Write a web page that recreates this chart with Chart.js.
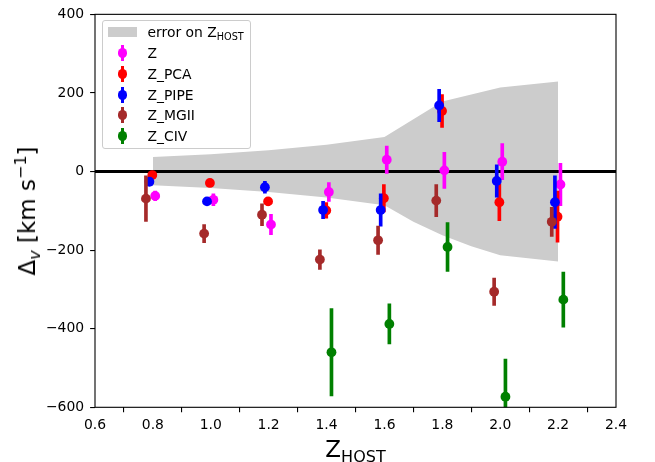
<!DOCTYPE html>
<html><head><meta charset="utf-8">
<script src="https://cdn.jsdelivr.net/npm/chart.js@4/dist/chart.umd.min.js"></script>
<style>
html,body{margin:0;padding:0;background:#fff;}
#wrap{position:relative;width:655px;height:462px;font-family:"DejaVu Sans",sans-serif;color:#000;overflow:hidden;}
canvas{position:absolute;left:0;top:0;}
#legend{position:absolute;left:101.5px;top:20px;width:149.5px;height:129px;box-sizing:border-box;border:1px solid #cccccc;border-radius:3px;background:rgba(255,255,255,0.8);}
.lt{position:absolute;left:45px;font-size:13.9px;line-height:16px;height:16px;white-space:nowrap;}
.lt sub{font-size:9.7px;vertical-align:-3px;line-height:0;}
.patch{position:absolute;left:5.5px;width:29px;height:9.7px;background:#cccccc;}
.ebar{position:absolute;width:3px;height:16px;}
.dot{position:absolute;width:9.8px;height:9.8px;border-radius:50%;}
#xtitle{position:absolute;left:355.5px;top:436px;transform:translateX(-50%);font-size:23px;line-height:26px;white-space:nowrap;}
#xtitle sub{font-size:16px;vertical-align:-5px;line-height:0;}
#ytitle{position:absolute;left:27px;top:211px;transform:translate(-50%,-50%) rotate(-90deg);font-size:23px;line-height:26px;white-space:nowrap;}
#ytitle sub{font-size:16px;vertical-align:-5px;line-height:0;font-style:italic;}
#ytitle sup{font-size:16px;vertical-align:9px;line-height:0;}
</style></head>
<body>
<div id="wrap">
<canvas id="c" width="655" height="462"></canvas>
<div id="legend"></div>
<div id="xtitle">Z<sub>HOST</sub></div>
<div id="ytitle">Δ<sub>v</sub> [km s<sup>−1</sup>]</div>
</div>
<script>
// ---- axis ranges and ticks ----
const xMin = 0.6, xMax = 2.4, yMin = -600, yMax = 400;
const xTicks = [0.6, 0.8, 1.0, 1.2, 1.4, 1.6, 1.8, 2.0, 2.2, 2.4];
const yTicks = [-600, -400, -200, 0, 200, 400];

// ---- series ----
const seriesNames = ['Z', 'Z_PCA', 'Z_PIPE', 'Z_MGII', 'Z_CIV'];
const seriesColors = ['#ff00ff', '#ff0000', '#0000ff', '#a52a2a', '#008000'];

const zX   = [0.808, 1.009, 1.208, 1.408, 1.608, 1.807, 2.007, 2.208];
const zY   = [-62, -72, -135, -52, 30, 3, 25, -33];
const zErr = [12, 15, 26, 24, 35, 46, 46, 54];

const pcaX   = [0.798, 0.997, 1.198, 1.399, 1.598, 1.799, 1.997, 2.198];
const pcaY   = [-9, -29, -76, -99, -68, 154, -78, -115];
const pcaErr = [5, 5, 10, 20, 35, 42, 47, 65];

const pipeX   = [0.788, 0.987, 1.187, 1.388, 1.587, 1.789, 1.988, 2.189];
const pipeY   = [-26, -76, -40, -98, -98, 168, -24, -78];
const pipeErr = [6, 6, 15, 22, 41, 41, 41, 67];

const mgX   = [0.776, 0.977, 1.177, 1.377, 1.578, 1.779, 1.979, 2.178];
const mgY   = [-69, -158, -110, -224, -175, -74, -306, -128];
const mgErr = [58, 23, 28, 25, 36, 41, 35, 37];

const civX   = [1.417, 1.617, 1.818, 2.018, 2.218];
const civY   = [-460, -388, -192, -573, -326];
const civErr = [111, 51, 62, 96, 70];

// ---- error band on Z_HOST ----
const bandLabel = 'error on Z_HOST';
const bandX     = [0.8, 1.0, 1.2, 1.4, 1.6, 1.7, 1.8, 1.9, 2.0, 2.2];
const bandUpper = [37, 44, 54, 68, 88, 133, 178, 196, 214, 229];
const bandLower = [-35, -42, -52, -66, -86, -128, -162, -190, -213, -229];

const seriesX = [zX, pcaX, pipeX, mgX, civX];
const seriesY = [zY, pcaY, pipeY, mgY, civY];
const seriesE = [zErr, pcaErr, pipeErr, mgErr, civErr];

const datasets = [];
datasets.push({
  type: 'line', label: bandLabel,
  data: bandX.map((x, i) => ({x: x, y: bandUpper[i]})),
  borderWidth: 0, borderColor: 'rgba(0,0,0,0)', pointRadius: 0,
  backgroundColor: '#cccccc', fill: '+1', tension: 0, order: 100
});
datasets.push({
  type: 'line', label: bandLabel + ' lower',
  data: bandX.map((x, i) => ({x: x, y: bandLower[i]})),
  borderWidth: 0, borderColor: 'rgba(0,0,0,0)', pointRadius: 0,
  backgroundColor: '#cccccc', fill: false, tension: 0, order: 101
});
datasets.push({
  type: 'line', label: 'zero',
  data: [{x: xMin, y: 0}, {x: xMax, y: 0}],
  borderColor: '#000000', borderWidth: 2.8, pointRadius: 0, fill: false, order: 90
});
seriesNames.forEach((name, s) => {
  const xs = seriesX[s], ys = seriesY[s], es = seriesE[s];
  datasets.push({
    type: 'bar', label: name + ' err',
    data: xs.map((x, i) => ({x: x, y: [ys[i] - es[i], ys[i] + es[i]]})),
    backgroundColor: seriesColors[s], borderWidth: 0, barThickness: 3,
    grouped: false, order: 60 - s * 10
  });
  datasets.push({
    type: 'scatter', label: name,
    data: xs.map((x, i) => ({x: x, y: ys[i]})),
    backgroundColor: seriesColors[s], borderWidth: 0, pointRadius: 4.9,
    order: 59 - s * 10
  });
});

const framePlugin = {
  id: 'frame',
  afterDatasetsDraw(chart) {
    const a = chart.chartArea, ctx = chart.ctx;
    ctx.save();
    ctx.strokeStyle = '#000'; ctx.lineWidth = 1.1;
    ctx.strokeRect(a.left, a.top, a.right - a.left, a.bottom - a.top);
    ctx.restore();
  }
};

const tickFont = {family: 'DejaVu Sans', size: 13.9};
const chart = new Chart(document.getElementById('c'), {
  type: 'scatter',
  data: {datasets: datasets},
  options: {
    responsive: false, animation: false, devicePixelRatio: 1,
    layout: {padding: {top: 12.7, right: 39, bottom: 0, left: 0}},
    plugins: {legend: {display: false}, tooltip: {enabled: false}},
    scales: {
      x: {
        type: 'linear', min: xMin, max: xMax, offset: false,
        afterBuildTicks: s => { s.ticks = xTicks.map(v => ({value: v})); },
        afterFit: s => { s.height = 54.7; },
        ticks: {font: tickFont, color: '#000', padding: 5, maxRotation: 0,
                callback: v => Number(v).toFixed(1)},
        grid: {display: true, drawOnChartArea: false, drawTicks: true, tickLength: 4.9,
               color: '#000', lineWidth: 1.1},
        border: {display: false}
      },
      y: {
        type: 'linear', min: yMin, max: yMax,
        afterBuildTicks: s => { s.ticks = yTicks.map(v => ({value: v})); },
        afterFit: s => { s.width = 95; },
        ticks: {font: tickFont, color: '#000', padding: 6,
                callback: v => v < 0 ? '\u2212' + (-v) : String(v)},
        grid: {display: true, drawOnChartArea: false, drawTicks: true, tickLength: 4.9,
               color: '#000', lineWidth: 1.1},
        border: {display: false}
      }
    }
  },
  plugins: [framePlugin]
});

// ---- legend (HTML, built from the series lists) ----
const legend = document.getElementById('legend');
const rowCenters = [11.2, 31.7, 52.7, 73.7, 94.3, 115.3];
(function () {
  const yc = rowCenters[0];
  const p = document.createElement('div');
  p.className = 'patch'; p.style.top = (yc - 4.85) + 'px'; p.style.background = datasets[0].backgroundColor;
  legend.appendChild(p);
  const t = document.createElement('div');
  t.className = 'lt'; t.style.top = (yc - 8) + 'px';
  t.innerHTML = 'error on Z<sub>HOST</sub>';
  legend.appendChild(t);
})();
seriesNames.forEach((name, s) => {
  const yc = rowCenters[s + 1];
  const b = document.createElement('div');
  b.className = 'ebar'; b.style.left = (20 - 1.5) + 'px'; b.style.top = (yc - 8) + 'px';
  b.style.background = seriesColors[s];
  legend.appendChild(b);
  const d = document.createElement('div');
  d.className = 'dot'; d.style.left = (20 - 4.9) + 'px'; d.style.top = (yc - 4.9) + 'px';
  d.style.background = seriesColors[s];
  legend.appendChild(d);
  const t = document.createElement('div');
  t.className = 'lt'; t.style.top = (yc - 8) + 'px';
  t.textContent = name;
  legend.appendChild(t);
});
</script>
</body></html>
